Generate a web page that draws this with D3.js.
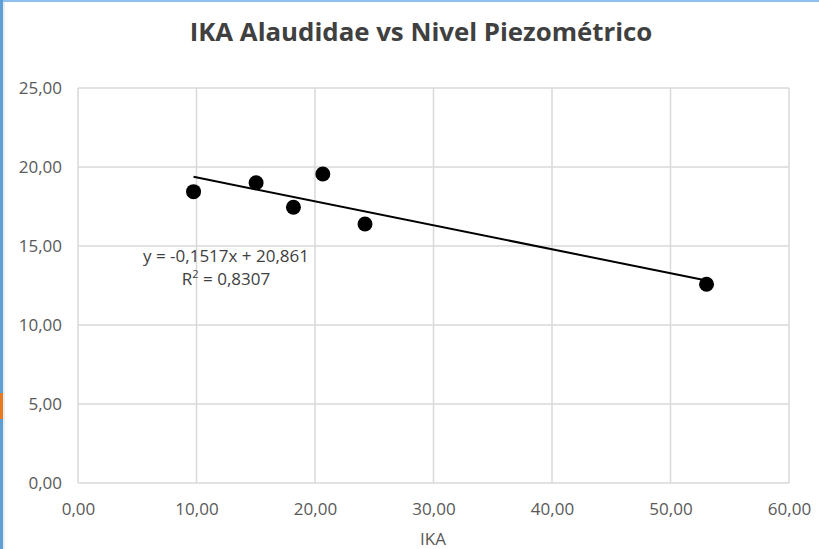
<!DOCTYPE html>
<html>
<head>
<meta charset="utf-8">
<script src="https://cdn.jsdelivr.net/npm/d3@7"></script>
<style>
  html, body { margin: 0; padding: 0; background: #fff; }
  svg { display: block; font-family: 'Open Sans', sans-serif; }
</style>
</head>
<body>
<svg id="container"></svg>
<script>
// IKA vs nivel piezometrico
const ika = [9.75, 15.03, 18.18, 20.66, 24.22, 53.04];
const nivel = [18.44, 19.0, 17.45, 19.56, 16.39, 12.58];
const xTicks = [0, 10, 20, 30, 40, 50, 60];
const yTicks = [0, 5, 10, 15, 20, 25];
// linear trend shown in the chart
const slope = -0.1517;
const intercept = 20.861;
const r2 = 0.8307;

const W = 819, H = 549;
const margin = { top: 88, right: 30, bottom: 66, left: 78 };
const w = 789 - margin.left;
const h = 483 - margin.top;

const fmt = (v) => v.toFixed(2).replace('.', ',');

const root = d3.select('#container').attr('width', W).attr('height', H);

// screenshot edge
root.append('rect').attr('x', 0).attr('y', 0).attr('width', W).attr('height', 2).attr('fill', '#8dc0ea');
root.append('rect').attr('x', 0).attr('y', 0).attr('width', 3).attr('height', H).attr('fill', '#5f9fd6');
root.append('rect').attr('x', 3).attr('y', 2).attr('width', 2).attr('height', H).attr('fill', '#e8eef4');
root.append('rect').attr('x', 0).attr('y', 393).attr('width', 3).attr('height', 26).attr('fill', '#e8791e');

const svg = root.append('g')
  .attr('transform', 'translate(' + margin.left + ',' + margin.top + ')');

const xScale = d3.scaleLinear().domain([0, 60]).range([0, w]);
const yScale = d3.scaleLinear().domain([0, 25]).range([h, 0]);

// gridlines
svg.append('g').selectAll('line.gx').data(xTicks).enter().append('line')
  .attr('x1', (d) => xScale(d)).attr('x2', (d) => xScale(d))
  .attr('y1', 0).attr('y2', h)
  .attr('stroke', '#d9d9d9').attr('stroke-width', 1.5);
svg.append('g').selectAll('line.gy').data(yTicks).enter().append('line')
  .attr('x1', 0).attr('x2', w)
  .attr('y1', (d) => yScale(d)).attr('y2', (d) => yScale(d))
  .attr('stroke', '#d9d9d9').attr('stroke-width', 1.5);

// axes (labels only)
const xAxis = d3.axisBottom(xScale).tickValues(xTicks).tickFormat(fmt).tickSize(0).tickPadding(20);
const yAxis = d3.axisLeft(yScale).tickValues(yTicks).tickFormat(fmt).tickSize(0).tickPadding(16);

const gX = svg.append('g').attr('transform', 'translate(0,' + h + ')').call(xAxis);
const gY = svg.append('g').call(yAxis);
[gX, gY].forEach((g) => {
  g.select('.domain').remove();
  g.selectAll('text')
    .attr('fill', '#595959')
    .style('font-family', "'Open Sans', sans-serif")
    .style('font-size', '17px');
});

// trendline
const xMin = d3.min(ika), xMax = d3.max(ika);
svg.append('line')
  .attr('x1', xScale(xMin)).attr('y1', yScale(slope * xMin + intercept))
  .attr('x2', xScale(xMax)).attr('y2', yScale(slope * xMax + intercept))
  .attr('stroke', '#000').attr('stroke-width', 2);

// points
svg.selectAll('circle').data(ika).enter().append('circle')
  .attr('cx', (d) => xScale(d))
  .attr('cy', (d, i) => yScale(nivel[i]))
  .attr('r', 7.5)
  .attr('fill', '#000');

// equation label
const eq = svg.append('text')
  .attr('text-anchor', 'middle')
  .attr('fill', '#404040')
  .style('font-size', '17px');
eq.append('tspan').attr('x', 226 - margin.left).attr('y', 262 - margin.top)
  .text('y = ' + slope.toFixed(4).replace('.', ',') + 'x + ' + intercept.toFixed(3).replace('.', ','));
const r2line = eq.append('tspan').attr('x', 226 - margin.left).attr('y', 285 - margin.top);
r2line.append('tspan').text('R');
r2line.append('tspan').attr('dy', -7).style('font-size', '11px').text('2');
r2line.append('tspan').attr('dy', 7).text(' = ' + r2.toFixed(4).replace('.', ','));

// title
const title = root.append('text')
  .attr('x', 421).attr('y', 41)
  .attr('text-anchor', 'middle')
  .attr('fill', '#404040')
  .style('font-weight', 'bold')
  .style('font-size', '24px')
  .text('IKA Alaudidae vs Nivel Piezométrico');
const tw = title.node().getComputedTextLength();
title.style('font-size', (24 * 463 / tw) + 'px');

// axis title
root.append('text')
  .attr('x', 433).attr('y', 545)
  .attr('text-anchor', 'middle')
  .attr('fill', '#595959')
  .style('font-size', '17px')
  .text('IKA');
</script>
</body>
</html>
